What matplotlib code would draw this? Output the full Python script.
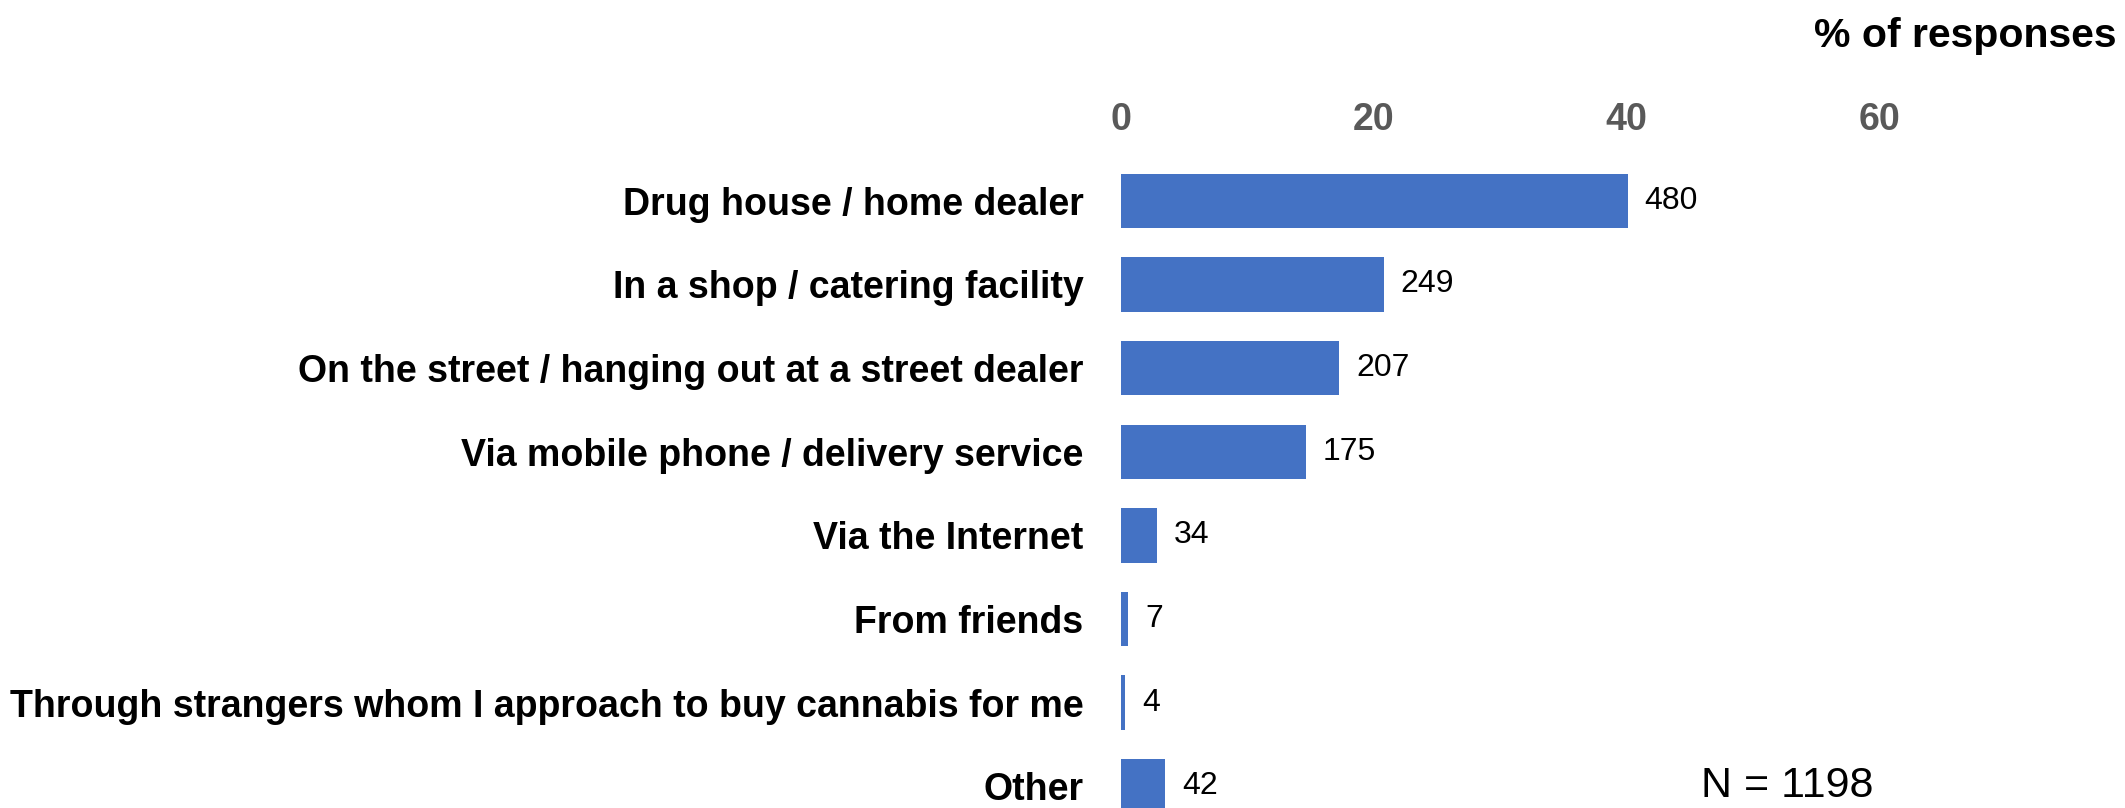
import matplotlib.pyplot as plt

# Where respondents get their cannabis
categories = [
    "Drug house / home dealer",
    "In a shop / catering facility",
    "On the street / hanging out at a street dealer",
    "Via mobile phone / delivery service",
    "Via the Internet",
    "From friends",
    "Through strangers whom I approach to buy cannabis for me",
    "Other",
]
counts = [480, 249, 207, 175, 34, 7, 4, 42]
n_total = 1198
x_ticks = [0, 20, 40, 60]

pct = [c / n_total * 100 for c in counts]

plt.rcParams['font.family'] = ['Liberation Sans', 'DejaVu Sans']

fig = plt.figure(figsize=(21.25, 8.08), dpi=100)
ax = fig.add_axes([0.5275, -0.0248, 0.4166, 0.828])

y = range(len(categories))
ax.barh(y, pct, height=0.65, color='#4472C4')
ax.set_ylim(len(categories) - 0.5, -0.5)
ax.set_xlim(0, 70)

for yi, p, c in zip(y, pct, counts):
    ax.annotate(str(c), (p, yi), xytext=(12, 0), textcoords='offset points',
                va='center', ha='left', fontsize=23, color='black')

ax.set_yticks(list(y))
ax.set_yticklabels(categories, fontsize=27, fontweight='bold')
ax.xaxis.tick_top()
ax.set_xticks(x_ticks)
ax.set_xticklabels([str(t) for t in x_ticks], fontsize=27, fontweight='bold',
                   color='#595959')
ax.tick_params(axis='both', length=0)
ax.tick_params(axis='y', pad=27)
ax.tick_params(axis='x', pad=15)
for s in ax.spines.values():
    s.set_visible(False)

fig.text(0.996, 0.955, "% of responses", ha='right', va='center',
         fontsize=29.5, fontweight='bold')
fig.text(0.8005, 0.027, "N = 1198", ha='left', va='center', fontsize=31)

fig.savefig('out.png', dpi=100)
